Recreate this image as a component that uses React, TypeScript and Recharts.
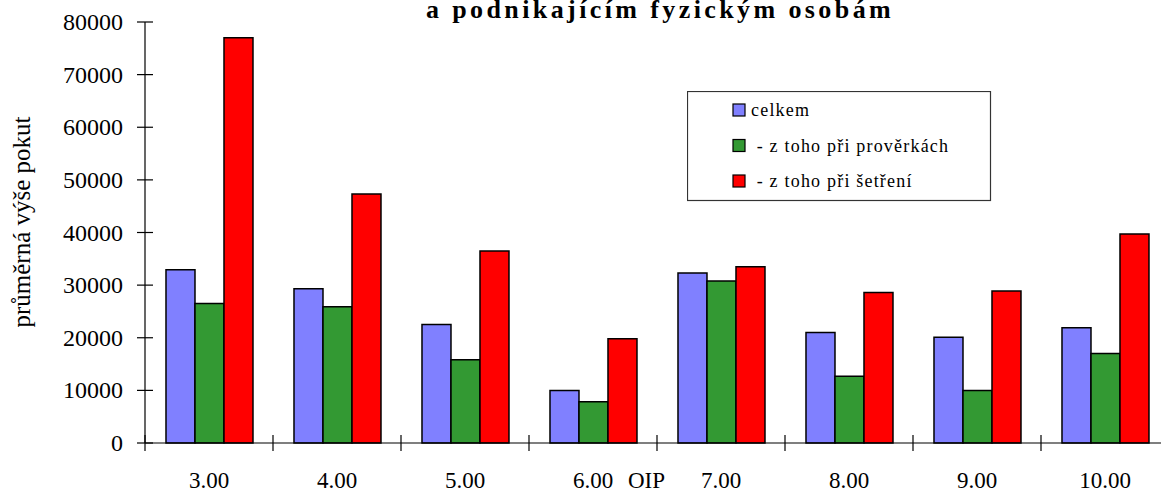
import React from 'react'
import { BarChart, Bar, XAxis, YAxis, Legend } from 'recharts'

const categories = ['3.00', '4.00', '5.00', '6.00 OIP', '7.00', '8.00', '9.00', '10.00']
const celkem = [32900, 29300, 22500, 10000, 32300, 21000, 20100, 21900]
const proverky = [26500, 25900, 15800, 7850, 30800, 12700, 10000, 17000]
const setreni = [77000, 47300, 36500, 19800, 33500, 28600, 28900, 39700]
const yTicks = [0, 10000, 20000, 30000, 40000, 50000, 60000, 70000, 80000]

const seriesNames = ['celkem', ' - z toho při prověrkách', ' - z toho při šetření']
const colors = ['#8080FF', '#339933', '#FF0000']

const data = categories.map((cat, i) => ({
  cat,
  celkem: celkem[i],
  proverky: proverky[i],
  setreni: setreni[i],
}))

const CHART_W = 1175
const CHART_H = 493
const LEFT = 145
const RIGHT = 6
const TOP = 22
const X_AXIS_H = 50
const BAND = (CHART_W - LEFT - RIGHT) / categories.length

const FONT = '"Liberation Serif", "Times New Roman", serif'

function YTick(props: any) {
  const { x, y, payload } = props
  // x = axis - tickSize(8) - tickMargin(6)
  return (
    <g>
      <line x1={x + 6} x2={x + 22} y1={y} y2={y} stroke="#000" strokeWidth={1.2} />
      <text x={x - 8} y={y} dy={8} textAnchor="end" fontSize={24} fill="#000" fontFamily={FONT}>
        {payload.value}
      </text>
    </g>
  )
}

function XTick(props: any) {
  const { x, y, payload, index } = props
  const parts = String(payload.value).split(' ')
  const axisY = y - 12
  return (
    <g>
      <line x1={x - BAND / 2} x2={x - BAND / 2} y1={axisY - 8} y2={axisY + 8} stroke="#000" strokeWidth={1.2} />
      {index === categories.length - 1 && (
        <line x1={x + BAND / 2} x2={x + BAND / 2} y1={axisY - 8} y2={axisY + 8} stroke="#000" strokeWidth={1.2} />
      )}
      <text x={x} y={axisY + 45} textAnchor="middle" fontSize={23} fill="#000" fontFamily={FONT}>
        {parts[0]}
      </text>
      {parts[1] && (
        <text x={x + 35} y={axisY + 45} textAnchor="start" fontSize={23} fill="#000" fontFamily={FONT}>
          {parts[1]}
        </text>
      )}
    </g>
  )
}

function LegendBox() {
  return (
    <svg width={305} height={111} style={{ display: 'block' }}>
      <rect x={0.5} y={0.5} width={303} height={109} fill="#fff" stroke="#333" strokeWidth={1.2} />
      {seriesNames.map((name, i) => {
        const cy = 19 + i * 35.5
        return (
          <g key={name}>
            <rect x={46} y={cy - 6} width={12} height={12} fill={colors[i]} stroke="#000" strokeWidth={1.2} />
            <text
              x={64}
              y={cy + 6}
              fontSize={18}
              letterSpacing={1.2}
              fill="#000"
              fontFamily={FONT}
              style={{ whiteSpace: 'pre' }}
            >
              {name}
            </text>
          </g>
        )
      })}
    </svg>
  )
}

export default function App() {
  return (
    <div style={{ position: 'absolute', left: 0, top: 0, width: 1161, height: 493, overflow: 'hidden', background: '#fff' }}>
      <BarChart
        width={CHART_W}
        height={CHART_H}
        data={data}
        margin={{ top: TOP, right: RIGHT, left: 0, bottom: 0 }}
        barCategoryGap="16.4%"
        barGap={0}
      >
        <text x={660} y={18} textAnchor="middle" fontSize={26} fontWeight="bold" letterSpacing={3.4} fill="#000" fontFamily={FONT}>
          a podnikajícím fyzickým osobám
        </text>
        <XAxis
          dataKey="cat"
          interval={0}
          tickSize={8}
          tickMargin={4}
          tickLine={false}
          axisLine={{ stroke: '#000', strokeWidth: 1.2 }}
          tick={<XTick />}
          height={X_AXIS_H}
        />
        <YAxis
          domain={[0, 80000]}
          ticks={yTicks}
          width={LEFT}
          tickSize={8}
          tickMargin={6}
          tickLine={false}
          axisLine={{ stroke: '#000', strokeWidth: 1.2 }}
          tick={<YTick />}
          label={{
            content: () => (
              <text
                x={0}
                y={0}
                transform="translate(30, 222) rotate(-90)"
                textAnchor="middle"
                fontSize={25}
                fill="#000"
                fontFamily={FONT}
              >
                průměrná výše pokut
              </text>
            ),
          }}
        />
        <Legend
          layout="vertical"
          align="center"
          verticalAlign="middle"
          wrapperStyle={{ position: 'absolute', left: 687, top: 91, width: 'auto' }}
          content={() => <LegendBox />}
        />
        <Bar dataKey="celkem" fill={colors[0]} stroke="#000" strokeWidth={1.5} isAnimationActive={false} />
        <Bar dataKey="proverky" fill={colors[1]} stroke="#000" strokeWidth={1.5} isAnimationActive={false} />
        <Bar dataKey="setreni" fill={colors[2]} stroke="#000" strokeWidth={1.5} isAnimationActive={false} />
      </BarChart>
    </div>
  )
}
